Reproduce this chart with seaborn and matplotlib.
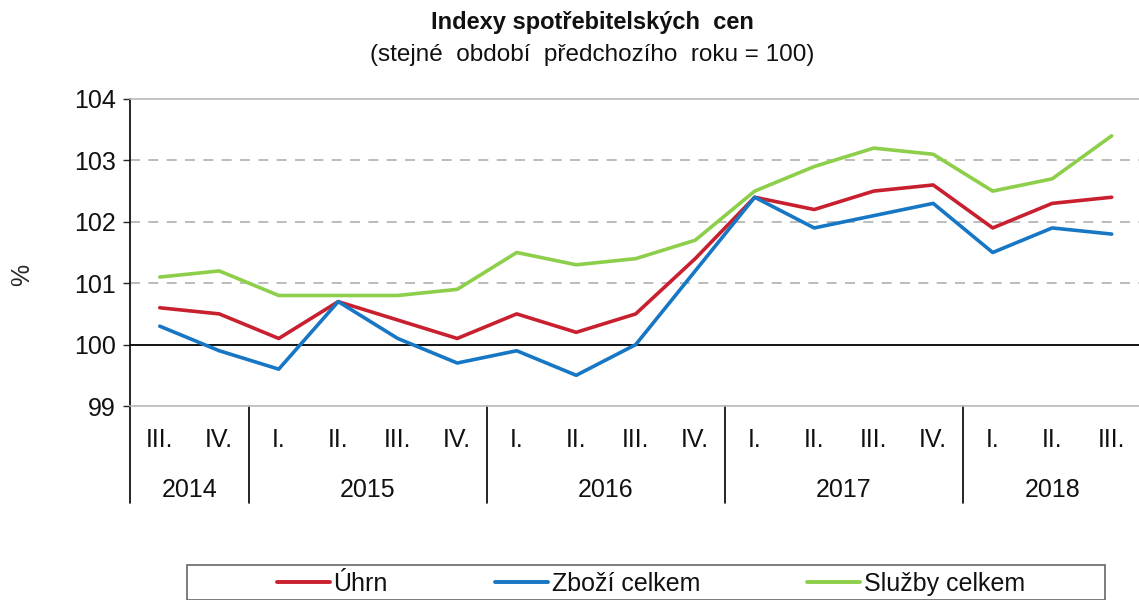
import pandas as pd
import numpy as np
import matplotlib.pyplot as plt
import seaborn as sns
from matplotlib.patches import Rectangle

# data (quarters 2014 III .. 2018 III)
quarters = ['III.', 'IV.', 'I.', 'II.', 'III.', 'IV.', 'I.', 'II.', 'III.', 'IV.',
            'I.', 'II.', 'III.', 'IV.', 'I.', 'II.', 'III.']
years = ['2014', '2015', '2016', '2017', '2018']
year_spans = [(0, 1), (2, 5), (6, 9), (10, 13), (14, 16)]
uhrn = [100.6, 100.5, 100.1, 100.7, 100.4, 100.1, 100.5, 100.2, 100.5, 101.4,
        102.4, 102.2, 102.5, 102.6, 101.9, 102.3, 102.4]
zbozi = [100.3, 99.9, 99.6, 100.7, 100.1, 99.7, 99.9, 99.5, 100.0, 101.2,
         102.4, 101.9, 102.1, 102.3, 101.5, 101.9, 101.8]
sluzby = [101.1, 101.2, 100.8, 100.8, 100.8, 100.9, 101.5, 101.3, 101.4, 101.7,
          102.5, 102.9, 103.2, 103.1, 102.5, 102.7, 103.4]
series_names = ['Úhrn', 'Zboží celkem', 'Služby celkem']
colors = ['#C8202F', '#1777C4', '#8DCF4A']

df = pd.DataFrame({'idx': np.arange(len(quarters)),
                   series_names[0]: uhrn,
                   series_names[1]: zbozi,
                   series_names[2]: sluzby})
long = df.melt(id_vars='idx', var_name='rada', value_name='hodnota')

sns.set_style('white')
plt.rcParams['font.family'] = ['Liberation Sans', 'DejaVu Sans']
fs = 18

fig = plt.figure(figsize=(11.39, 6.0), dpi=100)
ax = fig.add_axes([130 / 1139, 1 - 406 / 600, 0.888, 307 / 600])

sns.lineplot(data=long, x='idx', y='hodnota', hue='rada', palette=colors,
             hue_order=series_names, linewidth=2.6, ax=ax, legend=False, zorder=3)

ax.set_xlim(-0.5, len(quarters) - 0.5)
ax.set_ylim(99, 104)
ax.set_yticks([99, 100, 101, 102, 103, 104])
ax.tick_params(axis='y', labelsize=fs, length=5, width=1, direction='out', left=True, pad=5,
               labelcolor='#111111')

# grid: dashed at 101..103, solid black at 100
for v in [101, 102, 103]:
    ax.axhline(v, color='#b0b0b0', linestyle=(0, (6, 5)), linewidth=1.2, zorder=1)
ax.axhline(100, color='black', linewidth=1.3, zorder=2)

for s in ['top', 'bottom']:
    ax.spines[s].set_color('#b8b8b8')
    ax.spines[s].set_linewidth(1.2)
ax.spines['right'].set_visible(False)
ax.spines['left'].set_color('black')
ax.spines['left'].set_linewidth(1.2)

# quarter labels
ax.set_xticks(np.arange(len(quarters)))
ax.set_xticklabels(quarters, fontsize=fs, color='#111111')
ax.tick_params(axis='x', length=0, pad=16)
ax.set_xlabel('')
ax.set_ylabel('')

# year labels and separators
trans = ax.get_xaxis_transform()
for (a, b), yr in zip(year_spans, years):
    ax.text((a + b) / 2, -0.272, yr, transform=trans, ha='center', va='center', fontsize=fs,
            color='#111111')
for xs in [-0.5, 1.5, 5.5, 9.5, 13.5]:
    ax.plot([xs, xs], [0, -0.316], transform=trans, color='black', linewidth=1.2, clip_on=False)

fig.text(22 / 1139, 1 - 275 / 600, '%', rotation=90, ha='center', va='center', fontsize=fs)
fig.text(592 / 1139, 1 - 23 / 600, 'Indexy spotřebitelských  cen', ha='center', va='center',
         fontsize=17, fontweight='bold', color='#111111')
fig.text(592 / 1139, 1 - 55 / 600, '(stejné  období  předchozího  roku = 100)', ha='center',
         va='center', fontsize=17.5, color='#111111')

# legend box drawn separately, entries placed inside it
fig.patches.append(Rectangle((187 / 1139, 0), (1105 - 187) / 1139, 1 - 565 / 600,
                             transform=fig.transFigure, fill=False, edgecolor='#666666',
                             linewidth=1.2))
handles = [plt.Line2D([0], [0], color=c, linewidth=2.8) for c in colors]
leg = fig.legend(handles, series_names, loc='center', bbox_to_anchor=(651 / 1139, 1 - 584 / 600),
                 ncol=3, fontsize=fs, frameon=False, handlelength=2.1,
                 handletextpad=0.15, columnspacing=4.3, borderpad=0, borderaxespad=0)
for t in leg.get_texts():
    t.set_color('#111111')

fig.savefig('out.png', dpi=100)
